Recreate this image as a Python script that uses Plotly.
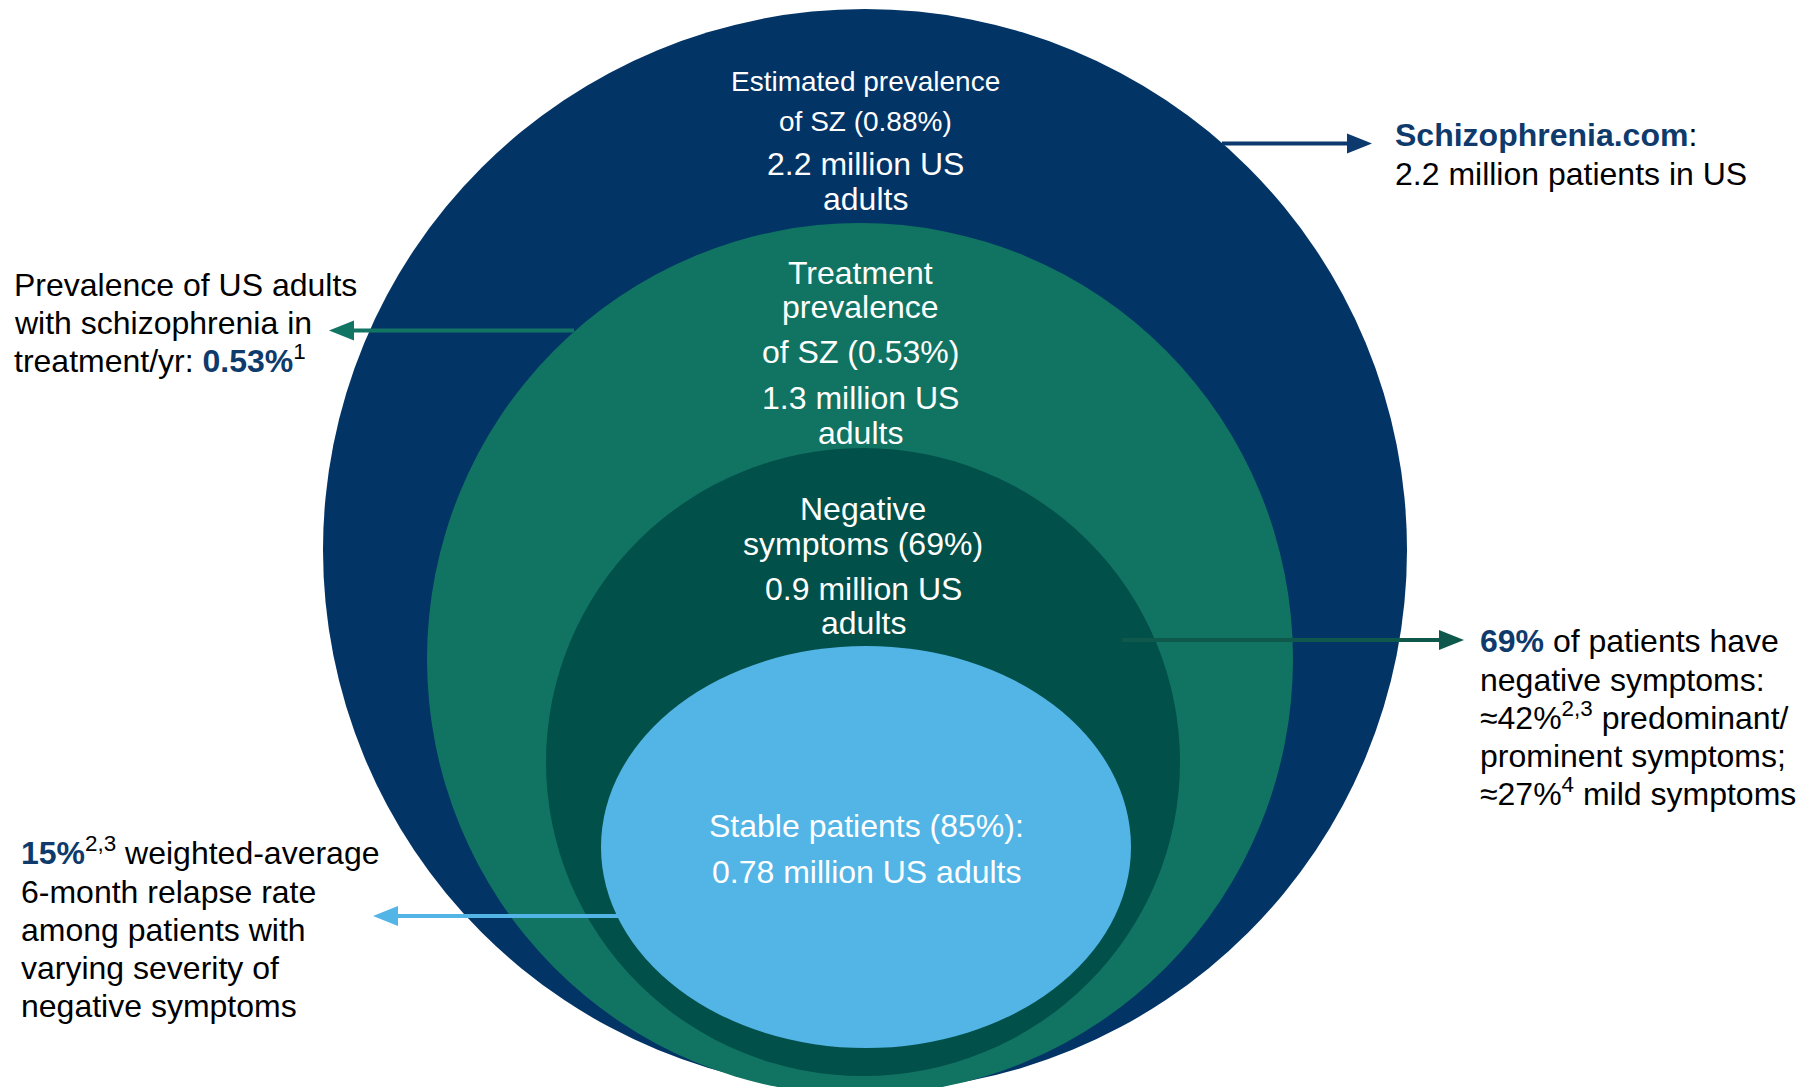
import plotly.graph_objects as go

# ---------------- data ----------------
levels = ["Estimated prevalence", "Treatment prevalence", "Negative symptoms", "Stable patients"]
percents = ["0.88%", "0.53%", "69%", "85%"]
millions_us_adults = [2.2, 1.3, 0.9, 0.78]

right_top_lines = ["<span style='color:#0e3a6c'><b>Schizophrenia.com</b></span>:",
                   "2.2 million patients in US"]
left_top_lines = ["Prevalence of US adults",
                  "with schizophrenia in",
                  "treatment/yr: <span style='color:#0e3a6c'><b>0.53%</b></span><sup>1</sup>"]
right_mid_lines = ["<span style='color:#0e3a6c'><b>69%</b></span> of patients have",
                   "negative symptoms:",
                   "≈42%<sup>2,3</sup> predominant/",
                   "prominent symptoms;",
                   "≈27%<sup>4</sup> mild symptoms"]
left_bot_lines = ["<span style='color:#0e3a6c'><b>15%</b></span><sup>2,3</sup> weighted-average",
                  "6-month relapse rate",
                  "among patients with",
                  "varying severity of",
                  "negative symptoms"]

# ---------------- layout / style ----------------
W, H = 1813, 1087
FONT = "Arial, 'Liberation Sans', sans-serif"
colors = ["#023466", "#117462", "#02504a", "#53b5e6"]
arrow_colors = ["#0d3a6e", "#127563", "#0e594b", "#53b5e6"]
# ellipse geometry (cx, cy, rx, ry) in page pixels
ellipses = [(865, 550, 542, 541), (860, 659, 433, 436), (863, 762, 317, 314), (866, 847, 265, 201)]

# circle label lines: (text, font size, cap-centre y)
circle_text = [
    [(f"{levels[0]}", 28, 81), (f"of SZ ({percents[0]})", 28, 121),
     (f"{millions_us_adults[0]} million US", 32, 164), ("adults", 32, 199)],
    [("Treatment", 32, 273), ("prevalence", 32, 307), (f"of SZ ({percents[1]})", 32, 352),
     (f"{millions_us_adults[1]} million US", 32, 398), ("adults", 32, 433)],
    [("Negative", 32, 509), (f"symptoms ({percents[2]})", 32, 544),
     (f"{millions_us_adults[2]} million US", 32, 589), ("adults", 32, 623)],
    [(f"{levels[3]} ({percents[3]}):", 32, 826), (f"{millions_us_adults[3]} million US adults", 32, 872)],
]
circle_text_x = [865, 860, 863, 866.5]

# arrows: (x_start, x_tip, y)
arrows = [(1222, 1372, 143.5), (574, 329, 330.5), (1122, 1464, 640), (618, 373, 916)]
arrow_order = [0, 1, 2, 3]

side_blocks = [
    (right_top_lines, 1395, 135, 38.5),
    (left_top_lines, 14, 284.5, 38.3),
    (right_mid_lines, 1480, 641, 38.3),
    (left_bot_lines, 21, 853, 38.3),
]

fig = go.Figure()
shapes = []
for (cx, cy, rx, ry), c in zip(ellipses, colors):
    shapes.append(dict(type="circle", xref="x", yref="y", x0=cx - rx, x1=cx + rx,
                       y0=cy - ry, y1=cy + ry, fillcolor=c, line=dict(width=0), layer="below"))

HEAD_L, HEAD_H, LW = 25, 10, 4
for i in arrow_order:
    xs, xt, y = arrows[i]
    c = arrow_colors[i]
    d = 1 if xt > xs else -1
    xb = xt - d * HEAD_L
    shapes.append(dict(type="line", xref="x", yref="y", x0=xs, x1=xb, y0=y, y1=y,
                       line=dict(color=c, width=LW), layer="above"))
    shapes.append(dict(type="path", xref="x", yref="y",
                       path=f"M {xt},{y} L {xb},{y - HEAD_H} L {xb},{y + HEAD_H} Z",
                       fillcolor=c, line=dict(width=0), layer="above"))

annotations = []
def add_line(text, x, ycap, fs, xanchor, color):
    annotations.append(dict(text=text, x=x, y=ycap + 0.57 * fs, xref="x", yref="y",
                            xanchor=xanchor, yanchor="bottom", showarrow=False,
                            borderpad=0, borderwidth=0,
                            font=dict(family=FONT, size=fs, color=color)))

for lines, cx in zip(circle_text, circle_text_x):
    for t, fs, yc in lines:
        add_line(t, cx, yc, fs, "center", "white")

for lines, x0, y0, dy in side_blocks:
    for k, t in enumerate(lines):
        add_line(t, x0, y0 + k * dy, 32, "left", "black")

fig.update_layout(
    width=W, height=H, margin=dict(l=0, r=0, t=0, b=0),
    paper_bgcolor="white", plot_bgcolor="white",
    xaxis=dict(range=[0, W], visible=False, fixedrange=True),
    yaxis=dict(range=[H, 0], visible=False, fixedrange=True),
    shapes=shapes, annotations=annotations, showlegend=False,
)

fig.write_html("out.html", config={"displayModeBar": False},
               post_script="document.body.style.margin='0';document.body.style.overflow='hidden';")
